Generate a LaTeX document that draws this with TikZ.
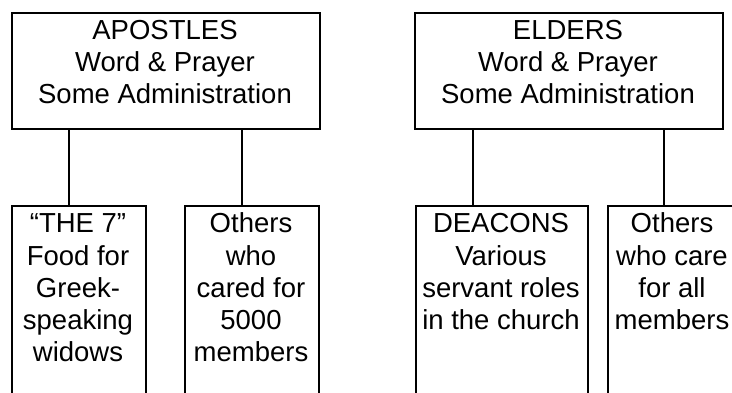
\documentclass[tikz,border=0pt]{standalone}
\usepackage{fontspec}
\setmainfont{Liberation Sans}
\begin{document}
\begin{tikzpicture}[x=1pt,y=-1pt,
  box/.style={draw=black, line width=1.8pt, inner sep=0pt, anchor=north west, rectangle},
  txt/.style={align=center, anchor=base, inner sep=0pt, font=\fontsize{27.5}{32.3}\selectfont},
  link/.style={draw=black, line width=1.8pt}]
\useasboundingbox (0,0) rectangle (732,392);
\clip (0,0) rectangle (732,392);
% top boxes
\node[box, minimum width=308pt, minimum height=116pt] (apostles) at (11,12) {};
\node[box, minimum width=308pt, minimum height=116pt] (elders) at (414,12) {};
% bottom boxes
\node[box, minimum width=134pt, minimum height=220pt] (seven) at (11,205) {};
\node[box, minimum width=134pt, minimum height=220pt] (others1) at (184,205) {};
\node[box, minimum width=172pt, minimum height=220pt] (deacons) at (415,205) {};
\node[box, minimum width=141pt, minimum height=220pt] (others2) at (607,205) {};
% texts (anchor = baseline of the last line)
\node[txt] (apostlesT) at (165,103.9) {APOSTLES\\Word \& Prayer\\Some Administration};
\node[txt] (eldersT) at (568,103.9) {ELDERS\\Word \& Prayer\\Some Administration};
\node[txt] (sevenT) at (78,361.9) {“THE 7”\\Food for\\Greek-\\speaking\\widows};
\node[txt] (others1T) at (251,361.9) {Others\\who\\cared for\\5000\\members};
\node[txt] (deaconsT) at (501,329.6) {DEACONS\\Various\\servant roles\\in the church};
\node[txt] (others2T) at (672,329.6) {Others\\who care\\for all\\members};
% connectors
\coordinate (c1) at (69,128);
\coordinate (c2) at (242,128);
\coordinate (c3) at (473,128);
\coordinate (c4) at (664,128);
\draw[link] (c1) -- (c1 |- seven.north);
\draw[link] (c2) -- (c2 |- others1.north);
\draw[link] (c3) -- (c3 |- deacons.north);
\draw[link] (c4) -- (c4 |- others2.north);
\end{tikzpicture}
\end{document}
